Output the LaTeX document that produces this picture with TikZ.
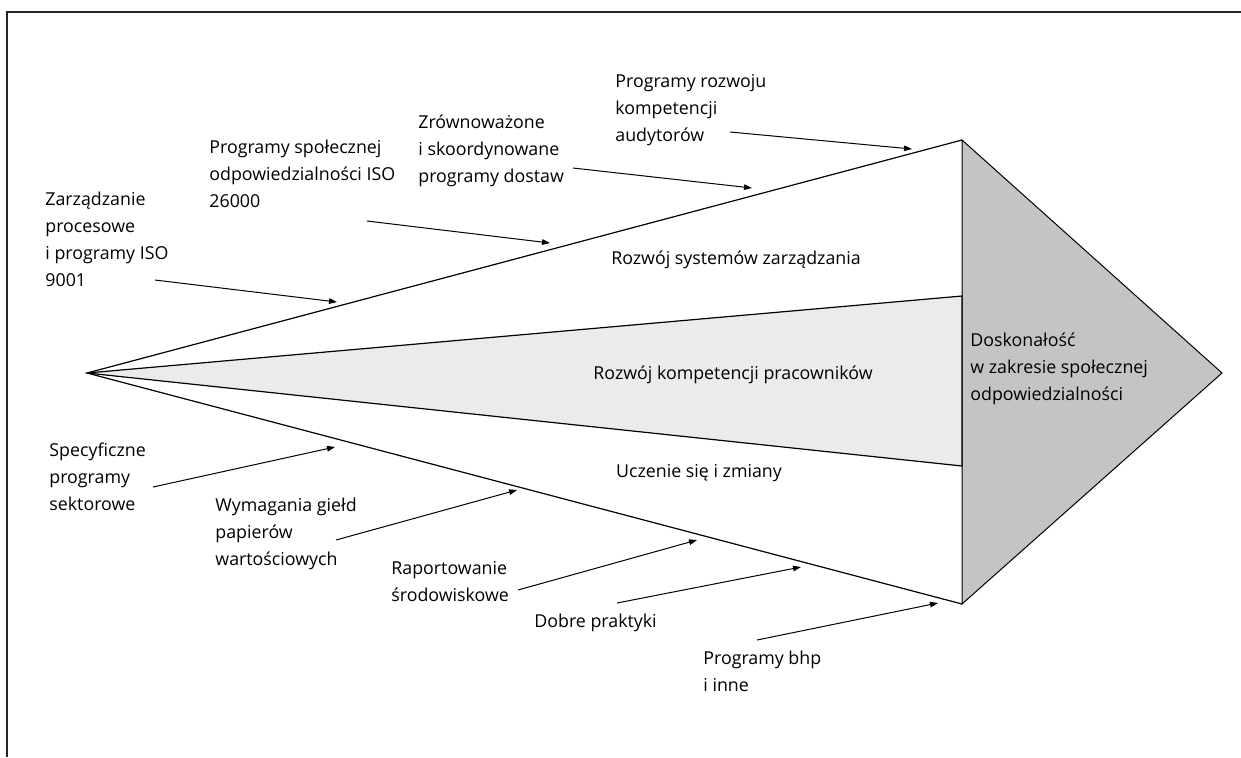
\documentclass[tikz,border=0pt]{standalone}
\usepackage{fontspec}
\setmainfont{Open Sans}
\usetikzlibrary{arrows.meta}

\definecolor{wedgegray}{gray}{0.92}
\definecolor{tipgray}{gray}{0.77}
\newcommand{\funnelfont}{\fontsize{8.9}{13.5}\selectfont}

\begin{document}
\begin{tikzpicture}[x=0.5pt,y=-0.5pt]

  \useasboundingbox (0,0) rectangle (1241,757);

  % frame (only left and top edge show)
  \draw[line width=1.1pt,black!85] (7,757) -- (7,12) -- (1241,12);

  \coordinate (apex) at (87,373);
  \coordinate (tl)   at (962,140);
  \coordinate (bl)   at (962,604);
  \coordinate (tip)  at (1222,373);
  \coordinate (mt)   at (962,296);
  \coordinate (mb)   at (962,466);

  \draw[fill=tipgray,line width=0.5pt] (tl) -- (tip) -- (bl) -- cycle;
  \draw[fill=wedgegray,line width=0.6pt] (apex) -- (mt) -- (mb) -- cycle;
  \draw[line width=0.6pt] (tl) -- (apex) -- (bl);

  \begin{scope}[every node/.style={align=left,anchor=north west,inner sep=0pt,font=\funnelfont}]
    \node (zarz)  at (45,192)  {Zarządzanie\\procesowe\\ i programy ISO\\9001};
    \node (spol)  at (209,140) {Programy społecznej\\odpowiedzialności ISO\\26000};
    \node (zrow)  at (418,114) {Zrównoważone\\ i skoordynowane\\programy dostaw};
    \node (audyt) at (615,74)  {Programy rozwoju\\kompetencji\\audytorów};
    \node (spec)  at (49,442)  {Specyficzne\\programy\\sektorowe};
    \node (gield) at (215,498) {Wymagania giełd\\papierów\\wartościowych};
    \node (rapo)  at (391,561) {Raportowanie\\środowiskowe};
    \node (dobre) at (534,614) {Dobre praktyki};
    \node (bhp)   at (703,651) {Programy bhp\\i inne};
    \node (dosk)  at (970,332) {Doskonałość\\w zakresie społecznej\\odpowiedzialności};
  \end{scope}

  \begin{scope}[every node/.style={inner sep=0pt,font=\funnelfont}]
    \node (sys)   at (736,260) {Rozwój systemów zarządzania};
    \node (komp)  at (733,375) {Rozwój kompetencji pracowników};
    \node (ucz)   at (699,473) {Uczenie się i zmiany};
  \end{scope}

  % arrow ends
  \coordinate (a1) at (155,280); \coordinate (b1) at (337,302);
  \coordinate (a2) at (367,221); \coordinate (b2) at (550,243);
  \coordinate (a3) at (573,168); \coordinate (b3) at (752,188);
  \coordinate (a4) at (730,132); \coordinate (b4) at (912,149);
  \coordinate (a5) at (153,487); \coordinate (b5) at (335,447);
  \coordinate (a6) at (336,540); \coordinate (b6) at (517,490);
  \coordinate (a7) at (518,590); \coordinate (b7) at (697,540);
  \coordinate (a8) at (617,603); \coordinate (b8) at (801,567);
  \coordinate (a9) at (757,640); \coordinate (b9) at (938,603);

  \begin{scope}[every edge/.style={draw,line width=0.5pt,-{Triangle[length=4pt,width=2.8pt]}}]
    \path (a1) edge (b1);
    \path (a2) edge (b2);
    \path (a3) edge (b3);
    \path (a4) edge (b4);
    \path (a5) edge (b5);
    \path (a6) edge (b6);
    \path (a7) edge (b7);
    \path (a8) edge (b8);
    \path (a9) edge (b9);
  \end{scope}

\end{tikzpicture}
\end{document}
